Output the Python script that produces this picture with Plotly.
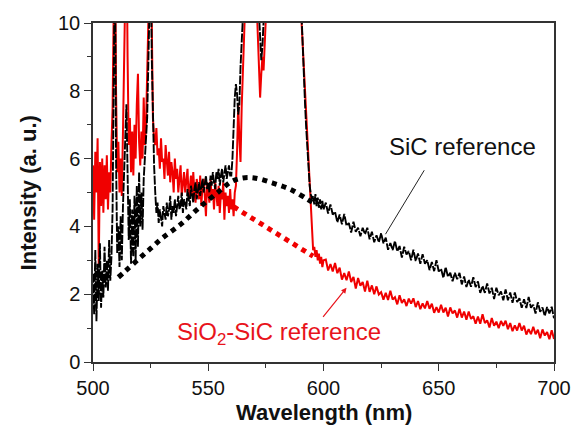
import numpy as np
import plotly.graph_objects as go

# wavelength grids (nm)
wl_fine = np.arange(500.0, 600.01, 0.5)
wl_coarse = np.arange(601.0, 700.01, 1.0)
wavelength = np.concatenate([wl_fine, wl_coarse])

# SiC reference (black), 500-600 nm every 0.5 nm
sic_fine = [
    2.6, 1.4, 3.3, 1.2, 2.9, 1.8, 3.5, 1.6, 2.7, 1.9,
    3.4, 2.2, 3.0, 2.1, 3.6, 2.4, 3.1, 4.5, 8.5, 12.0,
    6.0, 3.2, 4.0, 2.8, 4.3, 3.0, 4.6, 5.5, 6.8, 7.6,
    5.6, 3.6, 4.8, 2.9, 4.5, 3.1, 4.9, 3.0, 5.2, 3.4,
    5.6, 4.0, 5.0, 3.9, 5.4, 6.0, 6.4, 7.2, 8.8, 11.0,
    12.0, 9.0, 6.8, 5.8, 5.0, 4.4, 4.7, 4.1, 4.5, 4.3,
    4.0, 4.6, 4.4, 4.2, 4.7, 4.3, 4.5, 4.9, 4.2, 4.6,
    4.4, 4.8, 4.3, 4.7, 4.9, 4.5, 4.6, 5.0, 4.4, 4.8,
    4.7, 4.5, 5.1, 4.8, 4.6, 5.2, 4.9, 4.7, 5.1, 5.3,
    4.8, 5.1, 5.3, 4.9, 5.2, 5.4, 5.0, 5.3, 5.5, 5.1,
    5.3, 5.0, 5.5, 5.2, 5.6, 5.3, 5.1, 5.6, 5.4, 5.7,
    5.2, 5.5, 5.7, 5.3, 5.6, 5.8, 5.4, 5.6, 5.8, 5.5,
    5.5, 6.0, 7.0, 7.8, 8.2, 7.9, 7.3, 7.6, 8.7, 9.7,
    10.8, 12.5, 13, 13, 13, 13, 13, 13, 13, 13,
    13, 13, 13, 11.0, 10.3, 9.4, 8.9, 9.3, 10.2, 11.5,
    13, 13, 13, 13, 13, 13, 13, 13, 13, 13,
    13, 13, 13, 13, 13, 13, 13, 13, 13, 13,
    13, 13, 13, 13, 13, 13, 13, 13, 13, 13,
    13, 10.2, 9.2, 8.3, 7.6, 6.9, 6.2, 5.6, 5.2, 4.95,
    4.8, 4.9, 4.65, 4.95, 4.6, 4.85, 4.55, 4.8, 4.5, 4.75,
    4.5,
]
# SiC reference (black), 601-700 nm every 1 nm
sic_coarse = [
    4.70, 4.38, 4.65, 4.35, 4.43, 4.12, 4.35, 4.06, 4.37, 4.02,
    4.10, 3.82, 4.14, 3.84, 3.96, 3.71, 3.96, 3.77, 3.96, 3.62,
    3.84, 3.53, 3.74, 3.53, 3.80, 3.50, 3.67, 3.31, 3.51, 3.30,
    3.57, 3.26, 3.42, 3.08, 3.40, 3.17, 3.27, 3.00, 3.31, 2.98,
    3.20, 2.90, 3.18, 2.90, 3.00, 2.71, 2.95, 2.68, 3.00, 2.67,
    2.75, 2.48, 2.80, 2.51, 2.63, 2.38, 2.63, 2.44, 2.63, 2.29,
    2.52, 2.21, 2.43, 2.22, 2.50, 2.21, 2.38, 2.04, 2.24, 2.04,
    2.32, 2.02, 2.19, 1.86, 2.19, 1.97, 2.08, 1.82, 2.14, 1.82,
    2.05, 1.75, 2.05, 1.77, 1.88, 1.60, 1.85, 1.59, 1.92, 1.60,
    1.69, 1.43, 1.76, 1.48, 1.61, 1.36, 1.62, 1.43, 1.63, 1.29,
]

# SiO2-SiC reference (red), 500-600 nm every 0.5 nm
sio2_fine = [
    5.8, 4.2, 6.2, 5.0, 6.6, 2.8, 5.9, 4.6, 6.0, 4.4,
    5.8, 4.8, 6.1, 4.5, 5.6, 5.0, 6.4, 7.5, 10.5, 13.0,
    8.0, 5.6, 6.5, 5.0, 6.0, 4.9, 6.8, 8.5, 11.0, 13.0,
    9.0, 6.4, 7.2, 5.6, 6.8, 5.5, 7.0, 6.0, 7.6, 8.5,
    6.5, 5.8, 6.8, 6.0, 7.8, 6.4, 7.0, 8.0, 9.5, 11.5,
    13.0, 10.0, 7.2, 6.6, 6.4, 6.9, 6.1, 6.3, 5.7, 6.6,
    5.9, 6.0, 5.4, 6.4, 5.8, 5.5, 6.2, 5.3, 5.9, 5.6,
    5.0, 6.0, 5.4, 5.7, 5.0, 5.5, 5.8, 4.9, 5.4, 5.6,
    5.0, 5.3, 5.7, 4.8, 5.2, 5.5, 4.9, 5.6, 5.0, 4.7,
    5.4, 5.1, 4.8, 5.5, 4.6, 5.2, 5.4, 4.9, 4.3, 5.3,
    5.0, 4.7, 5.4, 4.8, 5.1, 4.5, 5.3, 4.9, 4.6, 5.2,
    4.4, 5.0, 4.8, 5.3, 4.2, 5.0, 4.6, 4.9, 4.4, 5.1,
    4.5, 4.8, 4.3, 5.0, 5.2, 6.2, 7.6, 6.6, 5.9, 7.5,
    8.8, 10.0, 12.5, 12.5, 12.5, 12.5, 12.5, 12.5, 12.5, 12.5,
    12.5, 11.5, 10.5, 9.2, 8.3, 7.8, 8.5, 9.0, 8.6, 9.6,
    10.8, 12.5, 12.5, 12.5, 12.5, 12.5, 12.5, 12.5, 12.5, 12.5,
    12.5, 12.5, 12.5, 12.5, 12.5, 12.5, 12.5, 12.5, 12.5, 12.5,
    12.5, 12.5, 12.5, 12.5, 12.5, 12.5, 12.5, 12.5, 12.5, 12.5,
    12.5, 10.0, 9.3, 8.5, 7.8, 7.1, 6.4, 5.7, 5.0, 4.4,
    3.7, 3.3, 3.4, 3.1, 3.3, 3.0, 3.2, 2.9, 3.1, 2.8,
    3.0,
]
# SiO2-SiC reference (red), 601-700 nm every 1 nm
sio2_coarse = [
    3.02, 2.70, 2.89, 2.67, 2.92, 2.62, 2.78, 2.43, 2.62, 2.41,
    2.67, 2.36, 2.51, 2.17, 2.48, 2.25, 2.36, 2.08, 2.40, 2.07,
    2.26, 2.00, 2.23, 1.99, 2.06, 1.84, 2.04, 1.83, 2.10, 1.84,
    1.91, 1.70, 1.97, 1.74, 1.85, 1.65, 1.87, 1.72, 1.88, 1.62,
    1.80, 1.56, 1.73, 1.58, 1.80, 1.57, 1.72, 1.45, 1.62, 1.46,
    1.69, 1.46, 1.60, 1.34, 1.61, 1.43, 1.52, 1.31, 1.57, 1.31,
    1.49, 1.25, 1.49, 1.27, 1.35, 1.13, 1.34, 1.13, 1.41, 1.15,
    1.23, 1.02, 1.30, 1.07, 1.19, 1.00, 1.21, 1.07, 1.22, 0.97,
    1.15, 0.91, 1.08, 0.93, 1.15, 0.93, 1.07, 0.81, 0.97, 0.82,
    1.04, 0.82, 0.95, 0.70, 0.96, 0.78, 0.88, 0.67, 0.94, 0.68,
]

sic = sic_fine + sic_coarse
sio2 = sio2_fine + sio2_coarse

# fitted background (dotted) curves
sic_bg_x = [511, 514, 520, 525, 530, 538, 546, 555, 560, 565, 570, 578, 586, 593, 595.5]
sic_bg_y = [2.5, 2.68, 3.05, 3.35, 3.65, 4.06, 4.55, 5.05, 5.32, 5.43, 5.43, 5.28, 5.08, 4.8, 4.7]
sio2_bg_x = [561, 570, 580, 590, 595.5]
sio2_bg_y = [4.58, 4.2, 3.78, 3.36, 3.12]

RED = "#f00000"
BLACK = "#000000"
FONT = "Arial, 'Liberation Sans', sans-serif"

fig = go.Figure()
fig.add_trace(go.Scatter(x=wavelength, y=sio2, mode="lines",
                         line=dict(color=RED, width=2.0), showlegend=False))
fig.add_trace(go.Scatter(x=wavelength, y=sic, mode="lines",
                         line=dict(color=BLACK, width=1.9, dash="9px,1.5px"), showlegend=False))
fig.add_trace(go.Scatter(x=sio2_bg_x, y=sio2_bg_y, mode="lines",
                         line=dict(color=RED, width=5, dash="5px,5px"), showlegend=False))
fig.add_trace(go.Scatter(x=sic_bg_x, y=sic_bg_y, mode="lines", line_shape="spline",
                         line=dict(color=BLACK, width=5, dash="5px,5px"), showlegend=False))

fig.add_annotation(x=660.5, y=6.37, text="SiC reference", showarrow=False,
                   font=dict(family=FONT, size=24, color="#111111"))
fig.add_annotation(x=626.9, y=3.77, ax=644.1, ay=5.70, axref="x", ayref="y",
                   text="", showarrow=True, arrowhead=0, arrowwidth=1, arrowcolor="#222222")
fig.add_annotation(x=580.7, y=0.85, text="SiO<sub>2</sub>-SiC reference", showarrow=False,
                   font=dict(family=FONT, size=24, color="#e8141c"))
fig.add_annotation(x=610.0, y=2.19, ax=599.3, ay=1.29, axref="x", ayref="y",
                   text="", showarrow=True, arrowhead=2, arrowsize=0.9, arrowwidth=1.2,
                   arrowcolor="#e8141c")

# axis titles
fig.add_annotation(xref="paper", yref="paper", x=-0.139, y=0.5, text="<b>Intensity (a. u.)</b>",
                   xanchor="center", yanchor="middle",
                   textangle=-90, showarrow=False, font=dict(family=FONT, size=22, color="#111111"))
fig.add_annotation(xref="paper", yref="paper", x=0.5, y=-0.149, text="<b>Wavelength (nm)</b>",
                   xanchor="center", yanchor="middle",
                   showarrow=False, font=dict(family=FONT, size=22, color="#111111"))

axis_common = dict(showline=True, linecolor="#333333", linewidth=1.5, mirror=True,
                   ticks="outside", ticklen=7, tickwidth=1.3, tickcolor="#333333",
                   showgrid=False, zeroline=False,
                   tickfont=dict(family=FONT, size=20, color="#111111"))
fig.update_xaxes(range=[500, 700], dtick=50, tick0=500,
                 minor=dict(dtick=25, ticklen=4, ticks="outside", tickcolor="#333333", tickwidth=1.2),
                 **axis_common)
fig.update_yaxes(range=[0, 10], dtick=2, tick0=0,
                 minor=dict(dtick=1, ticklen=4, ticks="outside", tickcolor="#333333", tickwidth=1.2),
                 **axis_common)

fig.update_layout(width=583, height=430, margin=dict(l=93, r=26, t=20, b=68),
                  plot_bgcolor="white", paper_bgcolor="white", showlegend=False)

fig.write_html("out.html")
